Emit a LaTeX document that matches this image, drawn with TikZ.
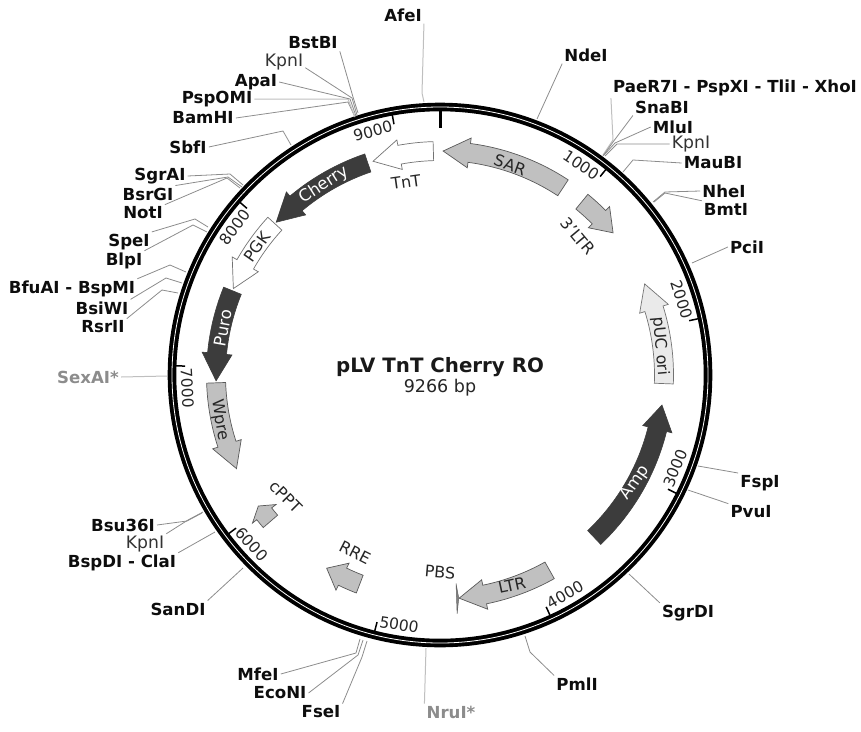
\documentclass[tikz,border=0pt]{standalone}
\usepackage{fontspec}
\setmainfont{DejaVu Sans}
\usetikzlibrary{calc,positioning}
\definecolor{darkfeat}{HTML}{3C3C3C}
\definecolor{midfeat}{HTML}{C0C0C0}
\definecolor{palefeat}{HTML}{EAEAEA}
\tikzset{
  x=1pt, y=1pt,
  site/.style={font=\fontsize{16.6}{16.6}\selectfont\bfseries, text=black!95, inner sep=2pt},
  sitethin/.style={font=\fontsize{17.2}{17.2}\selectfont, text=black!80, inner sep=2pt},
  sitegray/.style={font=\fontsize{16.6}{16.6}\selectfont\bfseries, text=black!45, inner sep=2pt},
  wire/.style={draw=black!45, line width=0.8pt},
  wirepale/.style={draw=black!25, line width=1pt},
  tickmark/.style={draw=black, line width=1.5pt},
  tickno/.style={font=\fontsize{15.5}{15.5}\selectfont, text=black!85, inner sep=0pt},
  featname/.style={font=\fontsize{16}{16}\selectfont, text=black!85, inner sep=0pt},
  featnamew/.style={font=\fontsize{16.5}{16.5}\selectfont, text=white, inner sep=0pt},
  featdark/.style={fill=darkfeat, draw=darkfeat, line width=0.6pt},
  featmid/.style={fill=midfeat, draw=black!65, line width=0.7pt},
  featpale/.style={fill=palefeat, draw=black!55, line width=0.7pt},
  featwhite/.style={fill=white, draw=black!55, line width=0.7pt}
}
% style, tail angle, shoulder angle, tip angle
\newcommand{\vecarrow}[4]{
\draw[#1] ($(O)+(#2:233.5)$) arc (#2:#3:233.5) -- ($(O)+(#3:239)$) -- ($(O)+(#4:224)$) -- ($(O)+(#3:209)$) -- ($(O)+(#3:214.5)$) arc (#3:#2:214.5) -- cycle;
}
\begin{document}
\begin{tikzpicture}
\useasboundingbox (0,0) rectangle (861,-731);
\coordinate (O) at (440,-375);
%
% backbone
\draw[line width=8.6pt, black] (O) circle (268);
\draw[line width=0.8pt, white] (O) circle (268);
\draw[line width=3pt, black] ($(O)+(90:265)$) -- ($(O)+(90:247)$);
%
% scale
\draw[tickmark] ($(O)+(51.1:265)$) -- ($(O)+(51.1:255)$);
\draw[tickmark] ($(O)+(12.3:265)$) -- ($(O)+(12.3:255)$);
\draw[tickmark] ($(O)+(-26.6:265)$) -- ($(O)+(-26.6:255)$);
\draw[tickmark] ($(O)+(-65.4:265)$) -- ($(O)+(-65.4:255)$);
\draw[tickmark] ($(O)+(-104.3:265)$) -- ($(O)+(-104.3:255)$);
\draw[tickmark] ($(O)+(-143.1:265)$) -- ($(O)+(-143.1:255)$);
\draw[tickmark] ($(O)+(-182:265)$) -- ($(O)+(-182:255)$);
\draw[tickmark] ($(O)+(139.2:265)$) -- ($(O)+(139.2:255)$);
\draw[tickmark] ($(O)+(100.4:265)$) -- ($(O)+(100.4:255)$);
\node[tickno, rotate=-34] (n1000) at ($(O)+(56.1:253)$) {1000};
\node[tickno, rotate=-73] (n2000) at ($(O)+(17.3:253)$) {2000};
\node[tickno, rotate=68] (n3000) at ($(O)+(-21.6:253)$) {3000};
\node[tickno, rotate=30] (n4000) at ($(O)+(-60.4:253)$) {4000};
\node[tickno, rotate=-9] (n5000) at ($(O)+(-99.3:253)$) {5000};
\node[tickno, rotate=-48] (n6000) at ($(O)+(-138.1:253)$) {6000};
\node[tickno, rotate=-87] (n7000) at ($(O)+(-177:253)$) {7000};
\node[tickno, rotate=54] (n8000) at ($(O)+(144.2:253)$) {8000};
\node[tickno, rotate=15] (n9000) at ($(O)+(105.4:253)$) {9000};
%
% features
\vecarrow{featmid}{56.7}{82.5}{89.2}
\vecarrow{featmid}{50.7}{44.8}{39.4}
\vecarrow{featwhite}{91.7}{100.4}{107.4}
\vecarrow{featdark}{108.8}{130}{137}
\vecarrow{featwhite}{137.5}{150.4}{157.3}
\vecarrow{featdark}{157.9}{174.5}{181.5}
\vecarrow{featmid}{182}{198}{204.7}
\vecarrow{featmid}{220.8}{218.3}{215.8}
\vecarrow{featmid}{249}{244.2}{239.6}
\vecarrow{featmid}{299.3}{281.5}{274.9}
\vecarrow{featdark}{-46.5}{-14}{-7.7}
\vecarrow{featpale}{-2.2}{17.2}{24}
\draw[fill=black!50, draw=black!60, line width=0.5pt] ($(O)+(-85.6:209)$) -- ($(O)+(-85.9:239.5)$) -- ($(O)+(-85.2:224)$) -- cycle;
%
\node[featname, rotate=-20] (SAR) at (510,-165) {SAR};
\node[featname, rotate=-50] (tLTR) at (578,-236) {3'LTR};
\node[featname, rotate=8] (TnT) at (406,-182) {TnT};
\node[featnamew, rotate=33] (Cherry) at (324,-185) {Cherry};
\node[featname, rotate=55] (PGK) at (257,-247) {PGK};
\node[featnamew, rotate=80] (Puro) at (223,-328) {Puro};
\node[featname, rotate=-80] (Wpre) at (220,-420) {Wpre};
\node[featname, rotate=-45] (cPPT) at (286,-497) {cPPT};
\node[featname, rotate=-27] (RRE) at (355,-553) {RRE};
\node[featname, rotate=-5] (PBS) at (440,-572) {PBS};
\node[featname, rotate=12] (LTR) at (512,-585) {LTR};
\node[featnamew, rotate=55] (Amp) at (635,-483) {Amp};
\node[featname, rotate=-85] (pUC) at (660,-346) {pUC ori};
%
\node[font=\fontsize{19.8}{19.8}\selectfont\bfseries, text=black!90] (title) at (440,-367) {pLV TnT Cherry RO};
\node[font=\fontsize{17.5}{17.5}\selectfont, text=black!85] (size) at (440,-388) {9266 bp};
%
% sites, clockwise from the top
\node[site] (AfeI) at (403,-15) {AfeI};
\node[site] (NdeI) at (586,-55) {NdeI};
\node[site] (PaeR) at (735,-88) {PaeR7I - PspXI - TliI - XhoI};
\node[site] (SnaBI) at (662,-107) {SnaBI};
\node[site] (MluI) at (673,-127) {MluI};
\node[sitethin] (KpnIa) at (691,-144) {KpnI};
\node[site] (MauBI) at (713,-163) {MauBI};
\node[site] (NheI) at (724,-191) {NheI};
\node[site] (BmtI) at (726,-209) {BmtI};
\node[site] (PciI) at (747,-247) {PciI};
\node[site] (FspI) at (760,-483) {FspI};
\node[site] (PvuI) at (751,-512) {PvuI};
\node[site] (SgrDI) at (688,-613) {SgrDI};
\node[site] (PmlI) at (577,-684) {PmlI};
\node[sitegray] (NruI) at (451,-712) {NruI*};
\node[site] (FseI) at (321,-712) {FseI};
\node[site] (EcoNI) at (280,-693) {EcoNI};
\node[site] (MfeI) at (258,-674) {MfeI};
\node[site] (SanDI) at (178,-609) {SanDI};
\node[site] (BspDI) at (122,-563) {BspDI - ClaI};
\node[sitethin] (KpnIb) at (145,-544) {KpnI};
\node[site] (Bsu) at (123,-525) {Bsu36I};
\node[sitegray] (SexAI) at (88,-377) {SexAI*};
\node[site] (RsrII) at (103,-327) {RsrII};
\node[site] (BsiWI) at (102,-308) {BsiWI};
\node[site] (BfuAI) at (72,-289) {BfuAI - BspMI};
\node[site] (BlpI) at (124,-261) {BlpI};
\node[site] (SpeI) at (129,-242) {SpeI};
\node[site] (NotI) at (143,-213) {NotI};
\node[site] (BsrGI) at (148,-194) {BsrGI};
\node[site] (SgrAI) at (160,-176) {SgrAI};
\node[site] (SbfI) at (188,-147) {SbfI};
\node[site] (BamHI) at (203,-118) {BamHI};
\node[site] (PspOMI) at (217,-99) {PspOMI};
\node[site] (ApaI) at (256,-82) {ApaI};
\node[sitethin] (KpnIc) at (284,-62) {KpnI};
\node[site] (BstBI) at (313,-43) {BstBI};
%
\coordinate (rAfeI) at (424,-102);
\coordinate (rNdeI) at (537,-119);
\coordinate (rPaeR) at (603,-155);
\coordinate (rSnaBI) at (603,-156);
\coordinate (rMluI) at (604,-155);
\coordinate (rKpnIa) at (605,-156);
\coordinate (rMauBI) at (623,-172);
\coordinate (rNheI) at (653,-202);
\coordinate (rBmtI) at (654,-202);
\coordinate (rPciI) at (692,-263);
\coordinate (rFspI) at (698,-466);
\coordinate (rPvuI) at (688,-490);
\coordinate (rSgrDI) at (629,-574);
\coordinate (rPmlI) at (525,-636);
\coordinate (rNruI) at (426,-648);
\coordinate (rFseI) at (367,-641);
\coordinate (rEcoNI) at (363,-640);
\coordinate (rMfeI) at (360,-639);
\coordinate (rSanDI) at (243,-568);
\coordinate (rBspDI) at (215,-532);
\coordinate (rKpnIb) at (203,-512);
\coordinate (rBsu) at (202,-513);
\coordinate (rSexAI) at (167,-376);
\coordinate (rRsrII) at (178,-293);
\coordinate (rBsiWI) at (182,-283);
\coordinate (rBfuAI) at (186,-272);
\coordinate (rBlpI) at (207,-232);
\coordinate (rSpeI) at (208,-227);
\coordinate (rNotI) at (240,-188);
\coordinate (rBsrGI) at (242,-187);
\coordinate (rSgrAI) at (243,-185);
\coordinate (rSbfI) at (291,-145);
\coordinate (rBamHI) at (355,-117);
\coordinate (rPspOMI) at (355,-117);
\coordinate (rApaI) at (356,-116);
\coordinate (rKpnIc) at (357,-115);
\coordinate (rBstBI) at (358,-113);
%
\draw[wirepale] (AfeI.south east) -- (422,-93) -- (rAfeI);
\draw[wire] (NdeI.south west) -- (rNdeI);
\draw[wirepale] (PaeR.south west) -- (613,-140) -- (rPaeR);
\draw[wire] (SnaBI.south west) -- (613,-142) -- (rSnaBI);
\draw[wire] (MluI.west) -- (615,-143) -- (rMluI);
\draw[wire] (KpnIa.west) -- (617,-144) -- (rKpnIa);
\draw[wire] (MauBI.west) -- (633,-160) -- (rMauBI);
\draw[wire] (NheI.west) -- (665,-192) -- (rNheI);
\draw[wire] (BmtI.north west) -- (665,-193) -- (rBmtI);
\draw[wire] (PciI.west) -- (rPciI);
\draw[wire] (FspI.north west) -- (rFspI);
\draw[wire] (PvuI.north west) -- (rPvuI);
\draw[wire] (SgrDI.north west) -- (rSgrDI);
\draw[wire] (PmlI.north west) -- (530,-652) -- (rPmlI);
\draw[wirepale] (NruI.north west) -- (rNruI);
\draw[wire] (FseI.north east) -- (362,-657) -- (rFseI);
\draw[wire] (EcoNI.east) -- (358,-655) -- (rEcoNI);
\draw[wire] (MfeI.east) -- (356,-653) -- (rMfeI);
\draw[wire] (SanDI.north east) -- (rSanDI);
\draw[wire] (BspDI.north east) -- (rBspDI);
\draw[wire] (KpnIb.north east) -- (188,-520) -- (rKpnIb);
\draw[wire] (Bsu.east) -- (187,-521) -- (rBsu);
\draw[wirepale] (SexAI.east) -- (rSexAI);
\draw[wire] (RsrII.north east) -- (162,-290) -- (rRsrII);
\draw[wire] (BsiWI.north east) -- (166,-278) -- (rBsiWI);
\draw[wire] (BfuAI.north east) -- (170,-265) -- (rBfuAI);
\draw[wire] (BlpI.north east) -- (193,-225) -- (rBlpI);
\draw[wire] (SpeI.north east) -- (195,-219) -- (rSpeI);
\draw[wire] (NotI.north east) -- (227,-178) -- (rNotI);
\draw[wire] (BsrGI.north east) -- (228,-177) -- (rBsrGI);
\draw[wire] (SgrAI.east) -- (230,-174) -- (rSgrAI);
\draw[wire] (SbfI.east) -- (283,-131) -- (rSbfI);
\draw[wire] (BamHI.east) -- (348,-102) -- (rBamHI);
\draw[wirepale] (PspOMI.east) -- (348,-99) -- (rPspOMI);
\draw[wire] (ApaI.east) -- (350,-99) -- (rApaI);
\draw[wire] (KpnIc.-15) -- (352,-98) -- (rKpnIc);
\draw[wire] (BstBI.south east) -- (353,-97) -- (rBstBI);
%
\end{tikzpicture}
\end{document}
